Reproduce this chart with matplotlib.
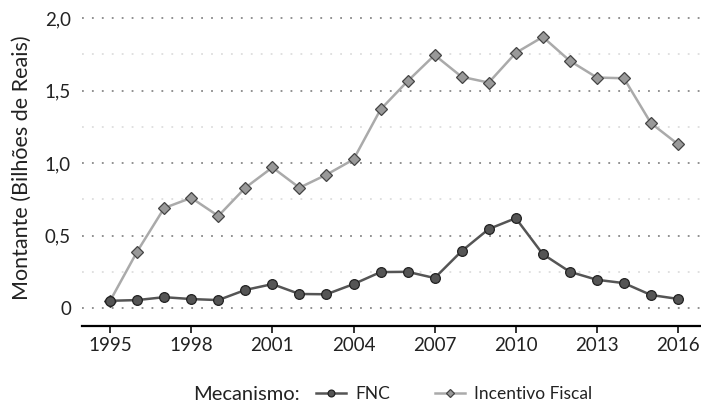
import matplotlib
matplotlib.use("Agg")
from matplotlib import pyplot as plt
from matplotlib.ticker import FixedLocator, FuncFormatter
from matplotlib.offsetbox import HPacker

# data (bilhoes de reais)
anos = list(range(1995, 2017))
fnc = [0.05, 0.055, 0.075, 0.062, 0.055, 0.125, 0.165, 0.097, 0.095, 0.165, 0.248, 0.25,
       0.207, 0.393, 0.545, 0.62, 0.372, 0.25, 0.195, 0.172, 0.09, 0.063]
incentivo = [0.05, 0.39, 0.69, 0.76, 0.635, 0.83, 0.97, 0.83, 0.92, 1.025, 1.37, 1.565,
             1.745, 1.595, 1.555, 1.76, 1.87, 1.705, 1.59, 1.585, 1.275, 1.13]
xticks = [1995, 1998, 2001, 2004, 2007, 2010, 2013, 2016]
yticks = [0, 0.5, 1.0, 1.5, 2.0]
yminor = [0.25, 0.75, 1.25, 1.75]

plt.rcParams['font.family'] = ['Lato', 'DejaVu Sans']

fig = plt.figure(figsize=(7.01, 4.05), dpi=100)
ax = fig.add_axes([0.117, 0.195, 0.883, 0.78])

ax.plot(anos, incentivo, color='#aaaaaa', lw=1.8, marker='D', ms=6.5,
        mfc='#999999', mec='#444444', mew=0.9, label='Incentivo Fiscal', zorder=3)
ax.plot(anos, fnc, color='#555555', lw=1.8, marker='o', ms=7,
        mfc='#555555', mec='#222222', mew=0.9, label='FNC', zorder=4)

ax.set_xlim(1993.96, 2016.85)
ax.set_ylim(-0.124, 2.055)
ax.set_xticks(xticks)
ax.yaxis.set_major_locator(FixedLocator(yticks))
ax.yaxis.set_minor_locator(FixedLocator(yminor))
ax.yaxis.set_major_formatter(FuncFormatter(lambda v, p: '0' if v == 0 else f'{v:.1f}'.replace('.', ',')))

ax.grid(axis='y', which='major', color='#888888', ls=(0, (1, 4.5)), lw=1.3)
ax.grid(axis='y', which='minor', color='#dddddd', ls=(0, (1, 4.5)), lw=1.3)
ax.grid(axis='x', visible=False)
for s in ['top', 'right', 'left']:
    ax.spines[s].set_visible(False)
ax.spines['bottom'].set_linewidth(1.6)
ax.tick_params(axis='x', length=5, width=1.3, labelsize=13.5, colors='#222222', pad=3)
ax.tick_params(axis='y', which='both', length=0, labelsize=13.5, labelcolor='#222222', pad=8)
ax.set_ylabel('Montante (Bilhões de Reais)', fontsize=15.5, color='#222222', labelpad=9)

h, l = ax.get_legend_handles_labels()
leg = fig.legend(h[::-1], l[::-1], loc='center', bbox_to_anchor=(0.56, 0.026), ncol=2,
                 frameon=False, title='Mecanismo:', fontsize=12.5, title_fontsize=14.5,
                 handlelength=1.7, handletextpad=0.55, columnspacing=2.6, markerscale=0.7)
for t in leg.get_texts():
    t.set_color('#222222')
leg.get_title().set_color('#222222')
# title on the same line as the entries
leg._legend_box = HPacker(children=[leg._legend_title_box, leg._legend_handle_box],
                          align='center', pad=0, sep=12)
leg._legend_box.set_figure(fig)
leg._legend_box.set_offset(leg._findoffset)

fig.savefig('out.png', dpi=100)
